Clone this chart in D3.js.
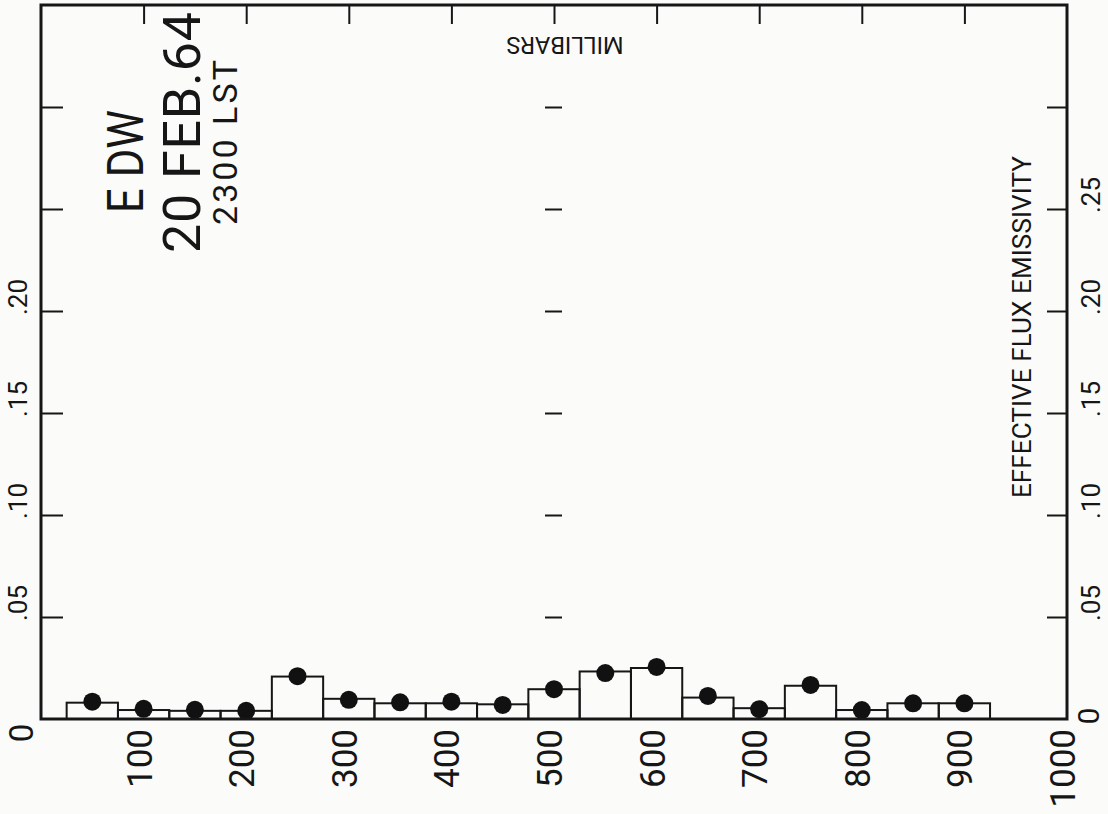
<!DOCTYPE html>
<html>
<head>
<meta charset="utf-8">
<script src="https://cdn.jsdelivr.net/npm/d3@7"></script>
<style>
  html, body { margin: 0; padding: 0; background: #fbfbfa; }
  svg { display: block; }
  text { font-family: Roboto, "DejaVu Sans", sans-serif; fill: #161616; }
</style>
</head>
<body>
<div id="chart"></div>
<script>
// pressure bins (mb), 50 mb wide
const binCenters = [50, 100, 150, 200, 250, 300, 350, 400, 450, 500, 550, 600, 650, 700, 750, 800, 850, 900];
const binWidth = 50;
// histogram bar heights
const barValues = [0.008, 0.0044, 0.004, 0.004, 0.0208, 0.0099, 0.0077, 0.0077, 0.0072, 0.0146,
                   0.0233, 0.025, 0.0105, 0.0053, 0.0163, 0.0044, 0.0077, 0.0077];
// filled dots
const dotValues = [0.0085, 0.005, 0.0045, 0.004, 0.021, 0.0094, 0.0082, 0.0085, 0.0069, 0.0146,
                   0.0225, 0.0255, 0.0113, 0.0048, 0.0167, 0.0044, 0.0077, 0.0077];

const xTickValues = [100, 200, 300, 400, 500, 600, 700, 800, 900, 1000];
const xTickLabels = ['100', '200', '300', '400', '500', '600', '700', '800', '900', '1000'];
const topTickValues = [100, 200, 300, 400, 500, 600, 700, 800, 900];
const yTickValues = [0.05, 0.10, 0.15, 0.20, 0.25, 0.30];
const leftLabelValues = [0.05, 0.10, 0.15, 0.20];
const leftLabels = ['.05', '.10', '.15', '.20'];
const rightLabelValues = [0.05, 0.10, 0.15, 0.20, 0.25];
const rightLabels = ['.05', '.10', '.15', '.20', '.25'];

document.addEventListener("DOMContentLoaded", function () {
  const svg = d3.select('#chart').append('svg')
    .attr('width', 1108)
    .attr('height', 814);

  const x = d3.scaleLinear().domain([0, 1000]).range([41, 1067]);
  const y = d3.scaleLinear().domain([0, 0.35]).range([719, 5]);

  // bars
  svg.append('g').selectAll('rect')
    .data(binCenters)
    .join('rect')
    .attr('x', d => x(d - binWidth / 2))
    .attr('y', (d, i) => y(barValues[i]))
    .attr('width', d => x(d + binWidth / 2) - x(d - binWidth / 2))
    .attr('height', (d, i) => y(0) - y(barValues[i]))
    .attr('fill', 'none')
    .attr('stroke', '#161616')
    .attr('stroke-width', 2);

  // dots
  svg.append('g').selectAll('circle')
    .data(binCenters)
    .join('circle')
    .attr('cx', d => x(d))
    .attr('cy', (d, i) => y(dotValues[i]))
    .attr('r', 9)
    .attr('fill', '#111');

  // ticks (inward), no labels
  const tickStyle = g => {
    g.select('.domain').remove();
    g.selectAll('line').attr('stroke', '#161616').attr('stroke-width', 2);
    g.selectAll('text').remove();
  };
  svg.append('g')
    .attr('transform', `translate(0,${y.range()[1]})`)
    .call(d3.axisBottom(x).tickValues(topTickValues).tickSize(19).tickFormat(''))
    .call(tickStyle);
  svg.append('g')
    .attr('transform', `translate(${x.range()[0]},0)`)
    .call(d3.axisRight(y).tickValues(yTickValues).tickSize(22).tickFormat(''))
    .call(tickStyle);
  svg.append('g')
    .attr('transform', `translate(${x.range()[1]},0)`)
    .call(d3.axisLeft(y).tickValues(yTickValues).tickSize(20).tickFormat(''))
    .call(tickStyle);
  // short dashes in the middle
  svg.append('g')
    .attr('transform', `translate(${x(500) - 9},0)`)
    .call(d3.axisRight(y).tickValues(yTickValues).tickSize(17).tickFormat(''))
    .call(tickStyle);

  // frame
  svg.append('rect')
    .attr('x', x(0))
    .attr('y', y(0.35))
    .attr('width', x(1000) - x(0))
    .attr('height', y(0) - y(0.35))
    .attr('fill', 'none')
    .attr('stroke', '#161616')
    .attr('stroke-width', 3);

  // rotated text helper
  function rotText(tx, ty, angle, str, size, anchor) {
    return svg.append('text')
      .attr('transform', `translate(${tx},${ty}) rotate(${angle})`)
      .attr('text-anchor', anchor)
      .attr('font-size', size + 'px')
      .text(str);
  }

  // bottom labels
  xTickValues.forEach((v, i) => {
    rotText(x(v) + 8, 729, -90, xTickLabels[i], 35, 'end');
  });
  rotText(33, 733, -90, '0', 33, 'middle');

  // left labels
  leftLabelValues.forEach((v, i) => {
    rotText(27, y(v) + 4, -90, leftLabels[i], 26, 'start');
  });
  // right labels
  rightLabelValues.forEach((v, i) => {
    rotText(1100, y(v) + 4, -90, rightLabels[i], 26, 'start');
  });
  rotText(1099, 716, -90, '0', 30, 'middle');

  // axis titles
  rotText(1031, 498, -90, 'EFFECTIVE FLUX EMISSIVITY', 26, 'start')
    .attr('textLength', 342)
    .attr('lengthAdjust', 'spacing');
  rotText(565, 37, 180, 'MILLIBARS', 23.5, 'middle');

  // station / date
  rotText(143, 213, -90, 'E DW', 50, 'start')
    .attr('textLength', 103)
    .attr('lengthAdjust', 'spacingAndGlyphs');
  rotText(200, 253, -90, '20 FEB.64', 52, 'start')
    .attr('textLength', 241)
    .attr('lengthAdjust', 'spacing');
  rotText(237, 225, -90, '2300 LST', 34, 'start')
    .attr('textLength', 165)
    .attr('lengthAdjust', 'spacing');
});
</script>
</body>
</html>
